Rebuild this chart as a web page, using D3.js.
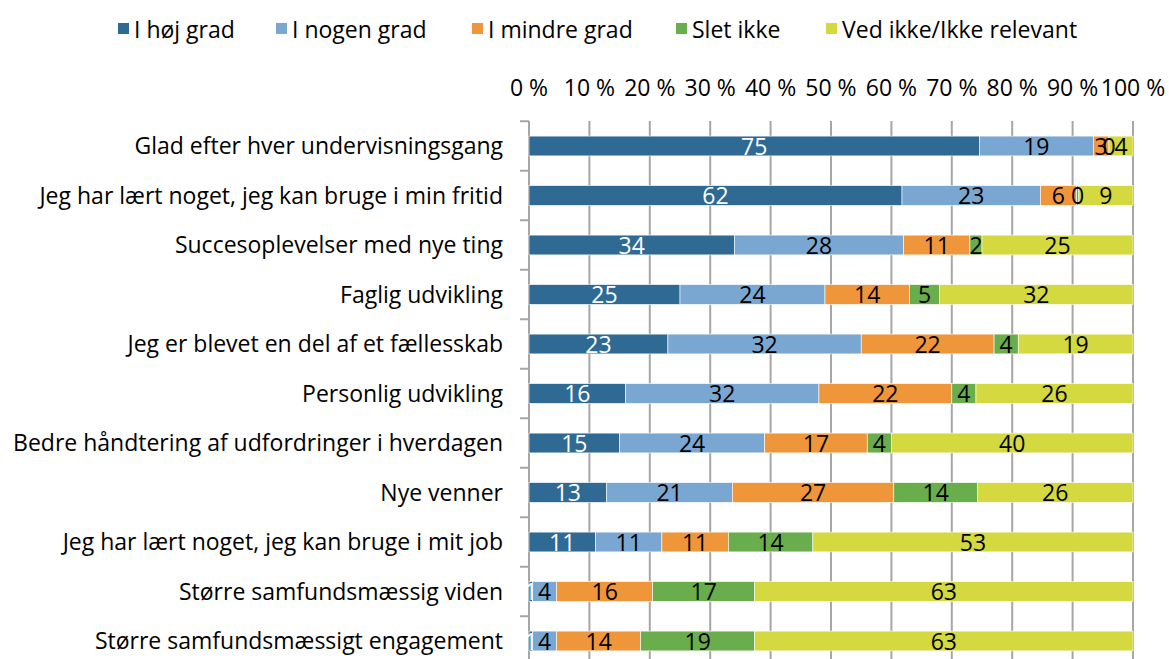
<!DOCTYPE html>
<html>
<head>
<meta charset="utf-8">
<script src="https://cdn.jsdelivr.net/npm/d3@7"></script>
<style>
  body { margin: 0; background: #fff; }
  text { font-family: "Open Sans", "Noto Sans", sans-serif; }
</style>
</head>
<body>
<div id="chart"></div>
<script>
const CATEGORIES = [
  "Glad efter hver undervisningsgang",
  "Jeg har lært noget, jeg kan bruge i min fritid",
  "Succesoplevelser med nye ting",
  "Faglig udvikling",
  "Jeg er blevet en del af et fællesskab",
  "Personlig udvikling",
  "Bedre håndtering af udfordringer i hverdagen",
  "Nye venner",
  "Jeg har lært noget, jeg kan bruge i mit job",
  "Større samfundsmæssig viden",
  "Større samfundsmæssigt engagement"
]

const SERIES = ["I høj grad", "I nogen grad", "I mindre grad", "Slet ikke", "Ved ikke/Ikke relevant"]
const COLORS = ["#2E6A93", "#7AA6D2", "#F0963A", "#69AD4D", "#D3D93F"]
const LABEL_COLORS = ["#fff", "#000", "#000", "#000", "#000"]

// one array per series, same order as CATEGORIES (percent)
const HOJ     = [75, 62, 34, 25, 23, 16, 15, 13, 11, 0.6, 0.6]
const NOGEN   = [19, 23, 28, 24, 32, 32, 24, 21, 11, 4, 4]
const MINDRE  = [2.6, 6, 11, 14, 22, 22, 17, 27, 11, 16, 14]
const SLET    = [0, 0.4, 2, 5, 4, 4, 4, 14, 14, 17, 19]
const VEDIKKE = [4, 9, 25, 32, 19, 26, 40, 26, 53, 63, 63]

const TICKS = [0, 0.1, 0.2, 0.3, 0.4, 0.5, 0.6, 0.7, 0.8, 0.9, 1]

const VALUES = [HOJ, NOGEN, MINDRE, SLET, VEDIKKE]
const rows = CATEGORIES.map(function(c, i) {
  let r = { cat: c }
  SERIES.forEach(function(s, j) { r[s] = VALUES[j][i] })
  return r
})

const width = 1169, height = 659
const FS = "23px"
const svg = d3.select("#chart").append("svg")
  .attr("width", width).attr("height", height)

const x = d3.scaleLinear().domain([0, 1]).range([529, 1133])
const y = d3.scaleBand().domain(CATEGORIES)
  .range([121.25, 121.25 + 11 * 49.5])
  .paddingInner(0.6).paddingOuter(0.3)

// gridlines
svg.append("g").selectAll("line")
  .data(TICKS.slice(1))
  .enter().append("line")
    .attr("x1", d => x(d)).attr("x2", d => x(d))
    .attr("y1", 121).attr("y2", height)
    .attr("stroke", "#a6a6a6").attr("stroke-width", 2)

// top axis labels
svg.append("g").selectAll("text")
  .data(TICKS)
  .enter().append("text")
    .attr("x", d => x(d))
    .attr("y", 96)
    .attr("text-anchor", "middle")
    .style("font-size", FS)
    .text(d => Math.round(d * 100) + " %")

// left axis line + ticks between categories
svg.append("line")
  .attr("x1", 529).attr("x2", 529).attr("y1", 121).attr("y2", height)
  .attr("stroke", "#a6a6a6").attr("stroke-width", 2)
svg.append("g").selectAll("line")
  .data(d3.range(0, 12))
  .enter().append("line")
    .attr("x1", 520).attr("x2", 529)
    .attr("y1", d => 121.25 + d * 49.5).attr("y2", d => 121.25 + d * 49.5)
    .attr("stroke", "#a6a6a6").attr("stroke-width", 2)

// category labels
svg.append("g").selectAll("text")
  .data(CATEGORIES)
  .enter().append("text")
    .attr("x", 503)
    .attr("y", d => y(d) + y.bandwidth() / 2)
    .attr("dy", "0.36em")
    .attr("text-anchor", "end")
    .style("font-size", FS)
    .text(d => d)

// stacked bars (normalised to 100 %)
const stack = d3.stack().keys(SERIES).offset(d3.stackOffsetExpand)
const layers = stack(rows)

const groups = svg.append("g").selectAll("g")
  .data(layers)
  .enter().append("g")
    .attr("fill", (d, i) => COLORS[i])

groups.selectAll("rect")
  .data(d => d)
  .enter().append("rect")
    .attr("x", d => x(d[0]))
    .attr("y", d => y(d.data.cat))
    .attr("width", d => Math.max(0, x(d[1]) - x(d[0])))
    .attr("height", y.bandwidth())
    .attr("stroke", "#fff").attr("stroke-width", 0.6)

// data labels
layers.forEach(function(layer, i) {
  svg.append("g").selectAll("text")
    .data(layer)
    .enter().append("text")
      .attr("x", d => (x(d[0]) + x(d[1])) / 2)
      .attr("y", d => y(d.data.cat) + y.bandwidth() / 2)
      .attr("dy", "0.37em")
      .attr("text-anchor", "middle")
      .attr("fill", LABEL_COLORS[i])
      .style("font-size", FS)
      .text(d => d3.format(".0f")(d.data[layer.key]))
})

// legend
const legendX = [118, 276, 472, 676, 826]
const legend = svg.append("g").selectAll("g")
  .data(SERIES)
  .enter().append("g")
    .attr("transform", (d, i) => "translate(" + legendX[i] + ",30)")
legend.append("rect")
  .attr("x", 0).attr("y", -7).attr("width", 11).attr("height", 11)
  .attr("fill", (d, i) => COLORS[i])
legend.append("text")
  .attr("x", 16).attr("y", 0).attr("dy", "0.33em")
  .style("font-size", FS)
  .text(d => d)
</script>
</body>
</html>
